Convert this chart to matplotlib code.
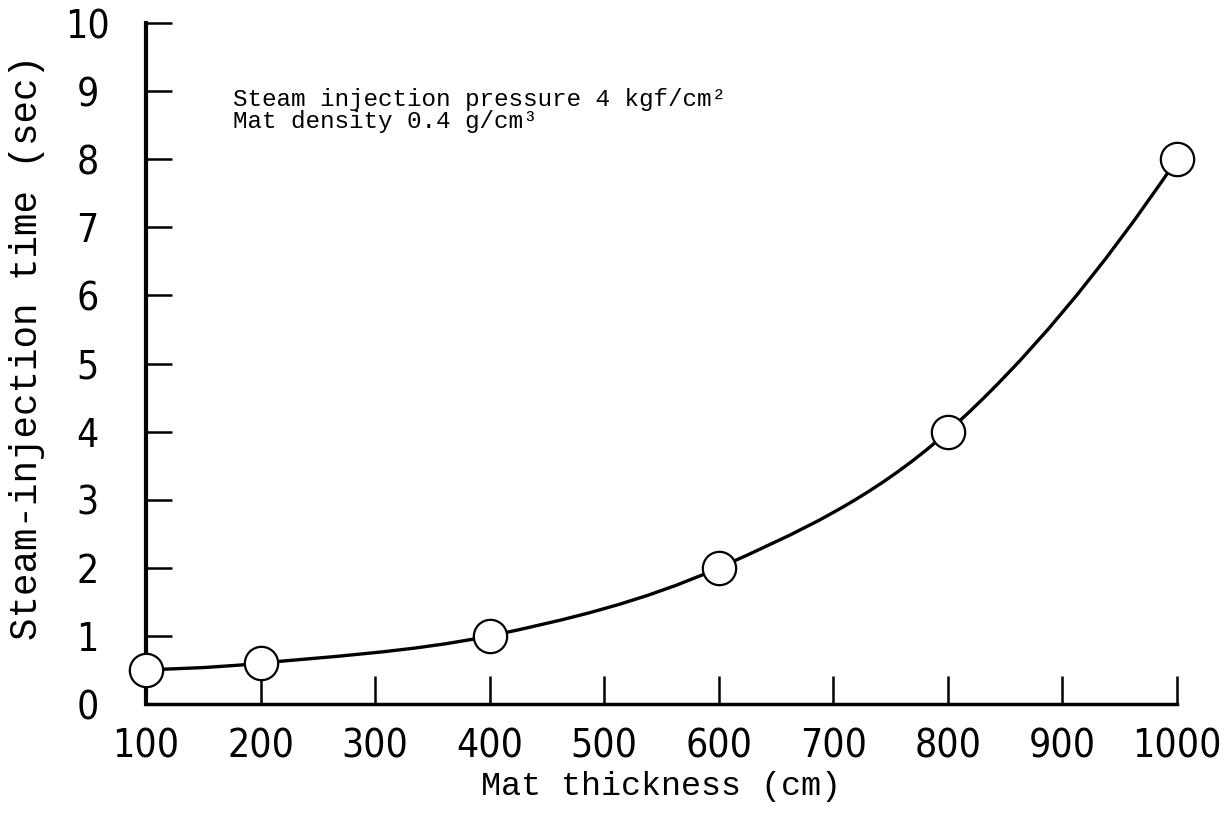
import numpy as np
import matplotlib
matplotlib.use('Agg')
import matplotlib.pyplot as plt
from matplotlib.path import Path
from matplotlib.patches import PathPatch

# Datos
espesor = [100, 200, 400, 600, 800, 1000]
tiempo = [0.5, 0.6, 1.0, 2.0, 4.0, 8.0]
xticks = [100, 200, 300, 400, 500, 600, 700, 800, 900, 1000]
yticks = [0, 1, 2, 3, 4, 5, 6, 7, 8, 9, 10]

fuente_texto = ['Liberation Mono', 'DejaVu Sans Mono']
fuente_num = ['DejaVu Sans']

fig = plt.figure(figsize=(12.31, 8.19), dpi=100)
ax = fig.add_axes([0.1186, 0.1404, 0.8375, 0.8315])

# Curva suave (Catmull-Rom -> Bezier) pasando por los puntos medidos
pts = np.column_stack([espesor, tiempo]).astype(float)
ini = pts[0]
fin = 3 * pts[-1] - 3 * pts[-2] + pts[-3]
ext = np.vstack([ini, pts, fin])
verts = [tuple(pts[0])]
codes = [Path.MOVETO]
for i in range(1, len(ext) - 2):
    p0, p1, p2, p3 = ext[i - 1], ext[i], ext[i + 1], ext[i + 2]
    c1 = p1 + (p2 - p0) / 6.0
    c2 = p2 - (p3 - p1) / 6.0
    verts += [tuple(c1), tuple(c2), tuple(p2)]
    codes += [Path.CURVE4] * 3
ax.add_patch(PathPatch(Path(verts, codes), fill=False, lw=2.4, edgecolor='black', zorder=2))

ax.plot(espesor, tiempo, linestyle='none', marker='o', markersize=24,
        markerfacecolor='white', markeredgecolor='black', markeredgewidth=1.6,
        clip_on=False, zorder=3)

ax.set_xlim(100, 1000)
ax.set_ylim(0, 10)
ax.set_xticks(xticks)
ax.set_yticks(yticks)
ax.set_xticklabels([str(v) for v in xticks], family=fuente_num, fontstretch='condensed', fontsize=28)
ax.set_yticklabels([str(v) for v in yticks], family=fuente_num, fontstretch='condensed', fontsize=28,
                   ha='center')
ax.tick_params(axis='both', direction='in', width=1.8, colors='black')
ax.tick_params(axis='x', length=20, pad=17)
ax.tick_params(axis='y', length=19, pad=42)

for lado in ['top', 'right']:
    ax.spines[lado].set_visible(False)
ax.spines['left'].set_linewidth(3)
ax.spines['bottom'].set_linewidth(2.5)

ax.set_xlabel('Mat thickness (cm)', family=fuente_texto, fontsize=24, va='center')
ax.xaxis.set_label_coords(0.5, -0.121)
ax.set_ylabel('Steam-injection time (sec)', family=fuente_texto, fontsize=27)
ax.yaxis.set_label_coords(-0.098, 0.524)

ax.text(0.084, 0.887, 'Steam injection pressure 4 kgf/cm²', transform=ax.transAxes,
        family=fuente_texto, fontsize=17.5, va='center', ha='left')
ax.text(0.084, 0.855, 'Mat density 0.4 g/cm³', transform=ax.transAxes,
        family=fuente_texto, fontsize=17.5, va='center', ha='left')

fig.savefig('out.png', dpi=100)
